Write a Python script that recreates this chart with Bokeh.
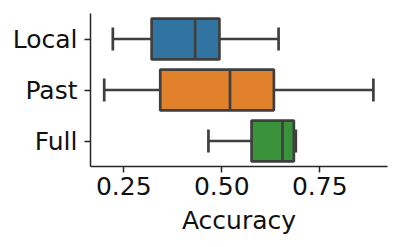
from bokeh.plotting import figure
from bokeh.models import Range1d, FactorRange, FixedTicker, ColumnDataSource
from bokeh.transform import dodge
from bokeh.embed import file_html
from bokeh.resources import INLINE

# ---- data ----
categories = ["Local", "Past", "Full"]
whisker_low = [0.222, 0.200, 0.466]
q1 = [0.321, 0.343, 0.576]
median = [0.432, 0.521, 0.655]
q3 = [0.494, 0.633, 0.684]
whisker_high = [0.645, 0.887, 0.689]
colors = ["#3274a1", "#e1812c", "#3a923a"]
x_ticks = [0.25, 0.50, 0.75]
x_tick_labels = ["0.25", "0.50", "0.75"]
x_label = "Accuracy"

FONT = "DejaVu Sans"
EDGE = "#3f3f3f"
TEXT = "#111111"

src = ColumnDataSource(dict(cat=categories, lo=whisker_low, q1=q1, med=median,
                            q3=q3, hi=whisker_high, color=colors))

p = figure(width=395, height=245, output_backend="svg", toolbar_location=None,
           y_range=FactorRange(factors=categories[::-1], range_padding=0),
           x_range=Range1d(0.165, 0.923),
           min_border_left=90, min_border_right=8, min_border_top=13, min_border_bottom=79)
p.outline_line_color = None
p.xgrid.visible = False
p.ygrid.visible = False
p.background_fill_color = "white"
p.border_fill_color = "white"

LW = 2.7
# whiskers
p.segment(x0="lo", x1="q1", y0="cat", y1="cat", source=src, line_color=EDGE, line_width=LW)
p.segment(x0="q3", x1="hi", y0="cat", y1="cat", source=src, line_color=EDGE, line_width=LW)
# boxes
p.hbar(y="cat", left="q1", right="q3", height=0.8, source=src, fill_color="color",
       line_color=EDGE, line_width=LW)
# medians
p.segment(x0="med", x1="med", y0=dodge("cat", -0.4, range=p.y_range),
          y1=dodge("cat", 0.4, range=p.y_range), source=src, line_color=EDGE, line_width=LW)
# caps
for f in ["lo", "hi"]:
    p.segment(x0=f, x1=f, y0=dodge("cat", -0.2, range=p.y_range),
              y1=dodge("cat", 0.2, range=p.y_range), source=src, line_color=EDGE,
              line_width=LW, line_cap="square")

for ax in (p.xaxis, p.yaxis):
    ax.axis_line_color = "#262626"
    ax.axis_line_width = 1.5
    ax.major_tick_line_color = "#262626"
    ax.major_tick_line_width = 1.5
    ax.major_tick_in = 0
    ax.major_tick_out = 6
    ax.minor_tick_line_color = None
    ax.major_label_text_font = FONT
    ax.major_label_text_font_size = "25px"
    ax.major_label_text_color = TEXT

p.xaxis.ticker = FixedTicker(ticks=x_ticks)
p.xaxis.major_label_overrides = {t: l for t, l in zip(x_ticks, x_tick_labels)}
p.xaxis.major_label_standoff = 4
p.xaxis.axis_label = x_label
p.xaxis.axis_label_text_font = FONT
p.xaxis.axis_label_text_font_size = "25px"
p.xaxis.axis_label_text_font_style = "normal"
p.xaxis.axis_label_text_color = TEXT
p.xaxis.axis_label_standoff = 8
p.yaxis.major_label_standoff = 7

open("out.html", "w").write(file_html(p, INLINE))
